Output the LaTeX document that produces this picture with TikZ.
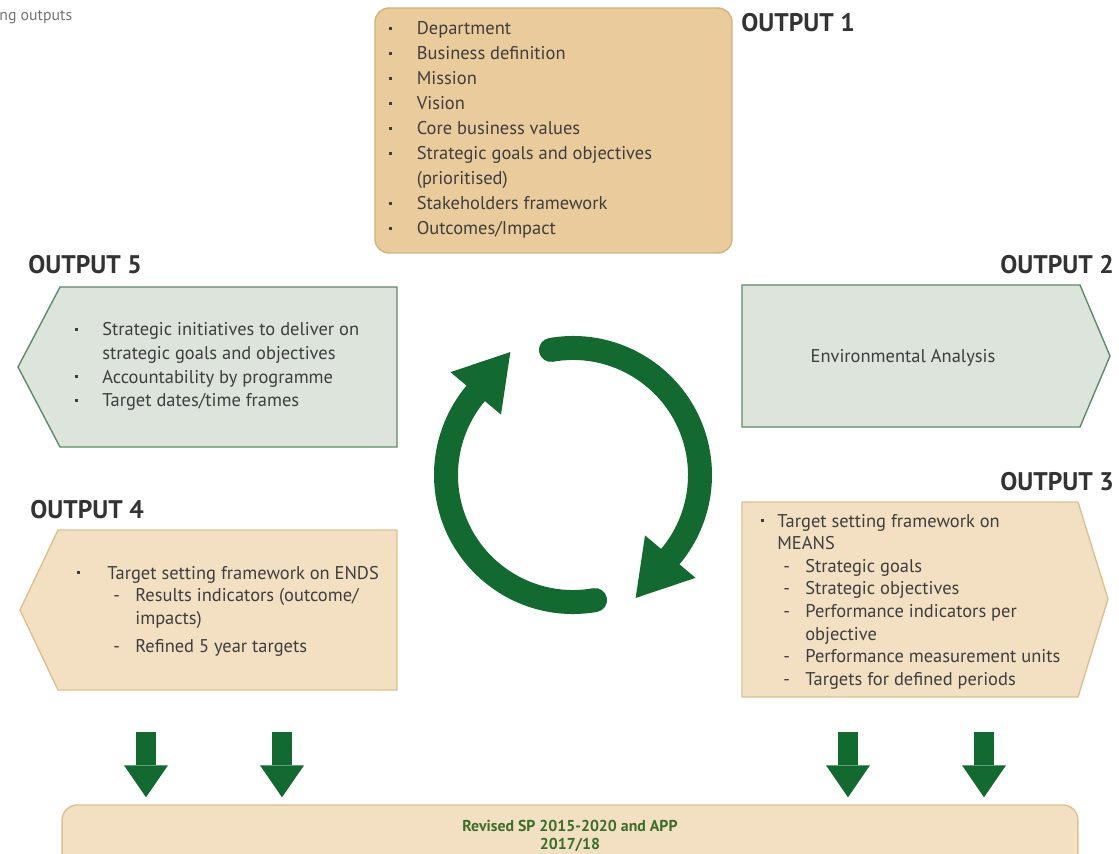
\documentclass[tikz,border=0pt]{standalone}
\usepackage{fontspec}
\setmainfont{PT Sans}
\usetikzlibrary{arrows.meta,calc}
\definecolor{wheatfill}{RGB}{234,203,156}
\definecolor{wheatline}{RGB}{214,178,124}
\definecolor{sandfill}{RGB}{243,224,195}
\definecolor{sandline}{RGB}{221,192,146}
\definecolor{sagefill}{RGB}{220,228,220}
\definecolor{sageline}{RGB}{94,139,106}
\definecolor{pine}{RGB}{19,106,48}
\definecolor{moss}{RGB}{58,111,42}
\definecolor{ink}{RGB}{51,51,51}
\definecolor{body}{RGB}{62,62,62}
\newcommand{\bl}[1][0.55cm]{\makebox[#1][l]{\raisebox{0.25em}{\rule{1.7pt}{1.7pt}}}}
\newcommand{\dsh}[1][0.72cm]{\hspace*{#1}\makebox[0.44cm][l]{-}}
\tikzset{
  pane/.style={draw=#1line,fill=#1fill,line width=0.8pt},
  outlabel/.style={font=\fontsize{14.5}{16}\selectfont\bfseries,text=ink,inner sep=0pt,anchor=west},
  list/.style={font=\fontsize{10.5}{#1}\selectfont,text=body,inner sep=0pt,anchor=base west},
  list/.default=13pt,
  ring/.style={draw=pine,line width=0.48cm,line cap=round},
  drop/.style={draw=pine,line width=0.4cm,
    -{Triangle[length=0.64cm,width=0.88cm,line width=0pt]},shorten >=0.14cm},
  sptitle/.style={font=\fontsize{9}{10.5}\selectfont\bfseries,text=moss,align=center,inner sep=0pt},
}

\begin{document}
\begin{tikzpicture}[x=0.02cm,y=0.02cm]
  \useasboundingbox (0,0) rectangle (1119,853);
  \clip (0,0) rectangle (1119,853);
  \node[font=\fontsize{9}{11}\selectfont,text=black!55,anchor=west,inner sep=0pt] (cap) at (-1,836) {ng outputs};
  % panes
  \draw[pane=wheat,rounded corners=0.28cm] (375,845) rectangle (732,600);
  \draw[pane=sage] (18,486) -- (60,566) -- (397,566) -- (397,406) -- (60,406) -- cycle;
  \draw[pane=sage] (742,568) -- (1080,568) -- (1110,497) -- (1080,426) -- (742,426) -- cycle;
  \draw[pane=sand] (742,351) -- (1078,351) -- (1108,254) -- (1078,156) -- (742,156) -- cycle;
  \draw[pane=sand] (20,243) -- (58,323) -- (397,323) -- (397,163) -- (58,163) -- cycle;
  \node[pane=sand,rounded corners=0.3cm,minimum width=20.32cm,minimum height=2cm] (sp) at (570,-2) {};
  % labels
  \node[outlabel] (l1) at (741,830) {OUTPUT 1};
  \node[outlabel] (l2) at (1000,588) {OUTPUT 2};
  \node[outlabel] (l3) at (1000,371) {OUTPUT 3};
  \node[outlabel] (l4) at (30,343) {OUTPUT 4};
  \node[outlabel] (l5) at (28,588) {OUTPUT 5};
  % texts
  \node[list=14.2pt] (o1) at (389,818) {\begin{tabular}[t]{@{}l@{}}
    \bl Department\\
    \bl Business definition\\
    \bl Mission\\
    \bl Vision\\
    \bl Core business values\\
    \bl Strategic goals and objectives\\
    \hspace*{0.55cm}(prioritised)\\
    \bl Stakeholders framework\\
    \bl Outcomes/Impact
  \end{tabular}};
  \node[font=\fontsize{10.5}{13}\selectfont,text=body] (o2) at (903,495) {Environmental Analysis};
  \node[list=12.9pt] (o3) at (761,326) {\begin{tabular}[t]{@{}l@{}}
    \bl[0.32cm]Target setting framework on\\
    \hspace*{0.32cm}MEANS\\
    \dsh[0.44cm]Strategic goals\\
    \dsh[0.44cm]Strategic objectives\\
    \dsh[0.44cm]Performance indicators per\\
    \hspace*{0.88cm}objective\\
    \dsh[0.44cm]Performance measurement units\\
    \dsh[0.44cm]Targets for defined periods
  \end{tabular}};
  \node[list=12.9pt] (o4) at (77,274) {\begin{tabular}[t]{@{}l@{}}
    \bl[0.6cm]Target setting framework on ENDS\\
    \dsh Results indicators (outcome/\\
    \hspace*{1.16cm}impacts)\\[3pt]
    \dsh Refined 5 year targets
  \end{tabular}};
  \node[list=13.4pt] (o5) at (75,517) {\begin{tabular}[t]{@{}l@{}}
    \bl[0.54cm]Strategic initiatives to deliver on\\
    \hspace*{0.54cm}strategic goals and objectives\\
    \bl[0.54cm]Accountability by programme\\
    \bl[0.54cm]Target dates/time frames
  \end{tabular}};
  % cycle
  \coordinate (c) at (573,378);
  \foreach \a in {0,180} {
    \draw[ring] ($(c)+(100+\a:127)$) arc[start angle=100+\a,end angle=-40+\a,radius=127];
    \fill[pine] ($(c)+(-40+\a:94)$) -- ($(c)+(-40+\a:160)$) -- ($(c)+(-63+\a:138)$) -- cycle;
  }
  % into the plan
  \foreach \x [count=\i] in {146,282,848,984} {
    \coordinate (d\i) at (\x,121);
    \draw[drop] (d\i) -- (d\i |- sp.north);
  }
  \node[sptitle] (spt) at (570,17) {Revised SP 2015-2020 and APP\\2017/18};
\end{tikzpicture}
\end{document}
